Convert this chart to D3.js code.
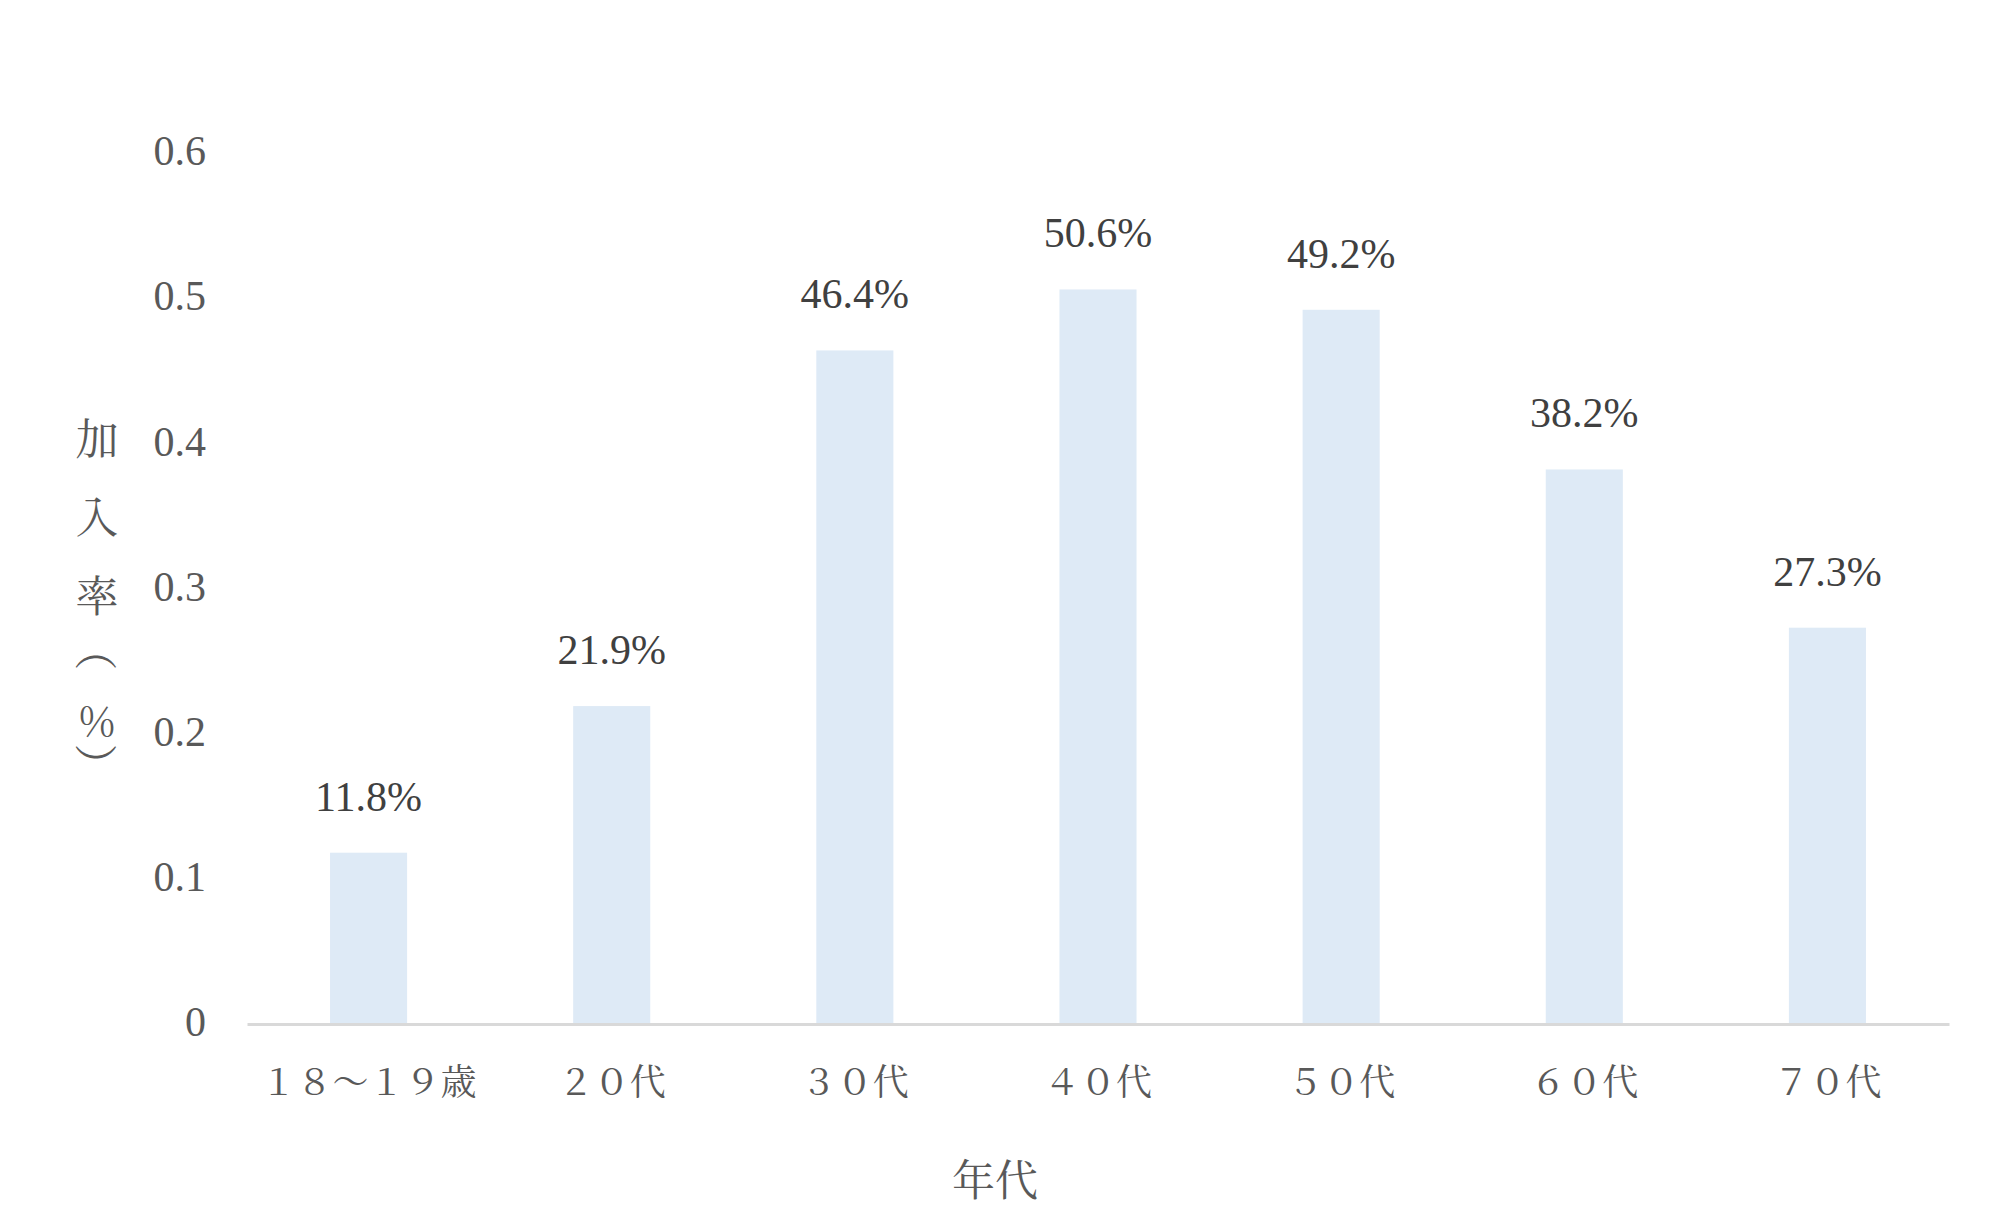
<!DOCTYPE html>
<html>
<head>
<meta charset="utf-8">
<script src="https://cdn.jsdelivr.net/npm/d3@7"></script>
<style>
  body { margin: 0; background: #fff; }
  svg { display: block; }
</style>
</head>
<body>
<div id="chart"></div>
<script>
// data
const categories = [ "１８～１９歳", "２０代", "３０代", "４０代", "５０代", "６０代", "７０代" ];
const rates = [ 0.118, 0.219, 0.464, 0.506, 0.492, 0.382, 0.273 ];
const yTicks = [ 0, 0.1, 0.2, 0.3, 0.4, 0.5, 0.6 ];
const xTitle = "年代";
const yTitle = [ "加", "入", "率", "（", "％", "）" ];

const width = 2000, height = 1223;
const serif = "'Liberation Serif', 'DejaVu Serif', serif";
const cjk = "'Noto Serif CJK JP', 'Noto Sans CJK JP', sans-serif";

const svg = d3.select( "#chart" )
  .append( "svg" )
  .attr( "width", width )
  .attr( "height", height );

const x = d3.scaleBand()
  .domain( categories )
  .range( [ 247, 1949 ] )
  .paddingInner( 0.683 )
  .paddingOuter( 0.683 / 2 );

const y = d3.scaleLinear()
  .domain( [ 0, 0.6 ] )
  .range( [ 1024, 153 ] );

// bars
svg.selectAll( "rect.bar" )
  .data( rates )
  .enter()
  .append( "rect" )
  .attr( "class", "bar" )
  .attr( "x", ( d, i ) => x( categories[ i ] ) )
  .attr( "y", d => y( d ) )
  .attr( "width", x.bandwidth() )
  .attr( "height", d => y( 0 ) - y( d ) )
  .attr( "fill", "#DEEAF6" );

// value labels
svg.selectAll( "text.val" )
  .data( rates )
  .enter()
  .append( "text" )
  .attr( "class", "val" )
  .attr( "x", ( d, i ) => x( categories[ i ] ) + x.bandwidth() / 2 )
  .attr( "y", d => y( d ) - 42 )
  .attr( "text-anchor", "middle" )
  .style( "font-family", serif )
  .style( "font-size", "42px" )
  .attr( "fill", "#404040" )
  .text( d => d3.format( ".1%" )( d ) );

// y axis (labels only)
const yAxis = svg.append( "g" )
  .attr( "transform", "translate(206,0)" )
  .call( d3.axisLeft( y ).tickValues( yTicks ).tickSize( 0 ).tickPadding( 0 )
    .tickFormat( d => d === 0 ? "0" : d3.format( ".1f" )( d ) ) );
yAxis.select( ".domain" ).remove();
yAxis.selectAll( "text" )
  .attr( "dy", "0.28em" )
  .style( "font-family", serif )
  .style( "font-size", "42px" )
  .attr( "fill", "#595959" );

// x axis
const xAxis = svg.append( "g" )
  .attr( "transform", "translate(0," + y( 0 ) + ")" )
  .call( d3.axisBottom( x ).tickSize( 0 ).tickPadding( 0 ) );
xAxis.select( ".domain" )
  .attr( "stroke", "#D9D9D9" )
  .attr( "stroke-width", 3 );
xAxis.selectAll( "text" )
  .attr( "y", 55 )
  .attr( "dy", null )
  .attr( "dominant-baseline", "central" )
  .style( "font-family", cjk )
  .style( "font-size", "36px" )
  .attr( "fill", "#595959" );

// axis titles
svg.append( "text" )
  .attr( "x", 995 )
  .attr( "y", 1177 )
  .attr( "text-anchor", "middle" )
  .attr( "dominant-baseline", "central" )
  .style( "font-family", cjk )
  .style( "font-size", "43px" )
  .attr( "fill", "#595959" )
  .text( xTitle );

// stacked y title, parentheses turned like vertical writing
// (full-width bracket glyphs sit off-centre in their box, so nudge them)
const yTitlePos = [ 436, 514, 593, 649, 718, 765 ];
svg.selectAll( "text.ytitle" )
  .data( yTitle )
  .enter()
  .append( "text" )
  .attr( "class", "ytitle" )
  .attr( "text-anchor", "middle" )
  .attr( "dominant-baseline", "central" )
  .attr( "transform", ( d, i ) => "translate(97," + yTitlePos[ i ] + ")" + ( d === "（" || d === "）" ? " rotate(90)" : "" ) )
  .style( "font-family", cjk )
  .style( "font-size", ( d ) => d === "％" ? "40px" : "43px" )
  .attr( "fill", "#595959" )
  .text( d => d );
</script>
</body>
</html>
